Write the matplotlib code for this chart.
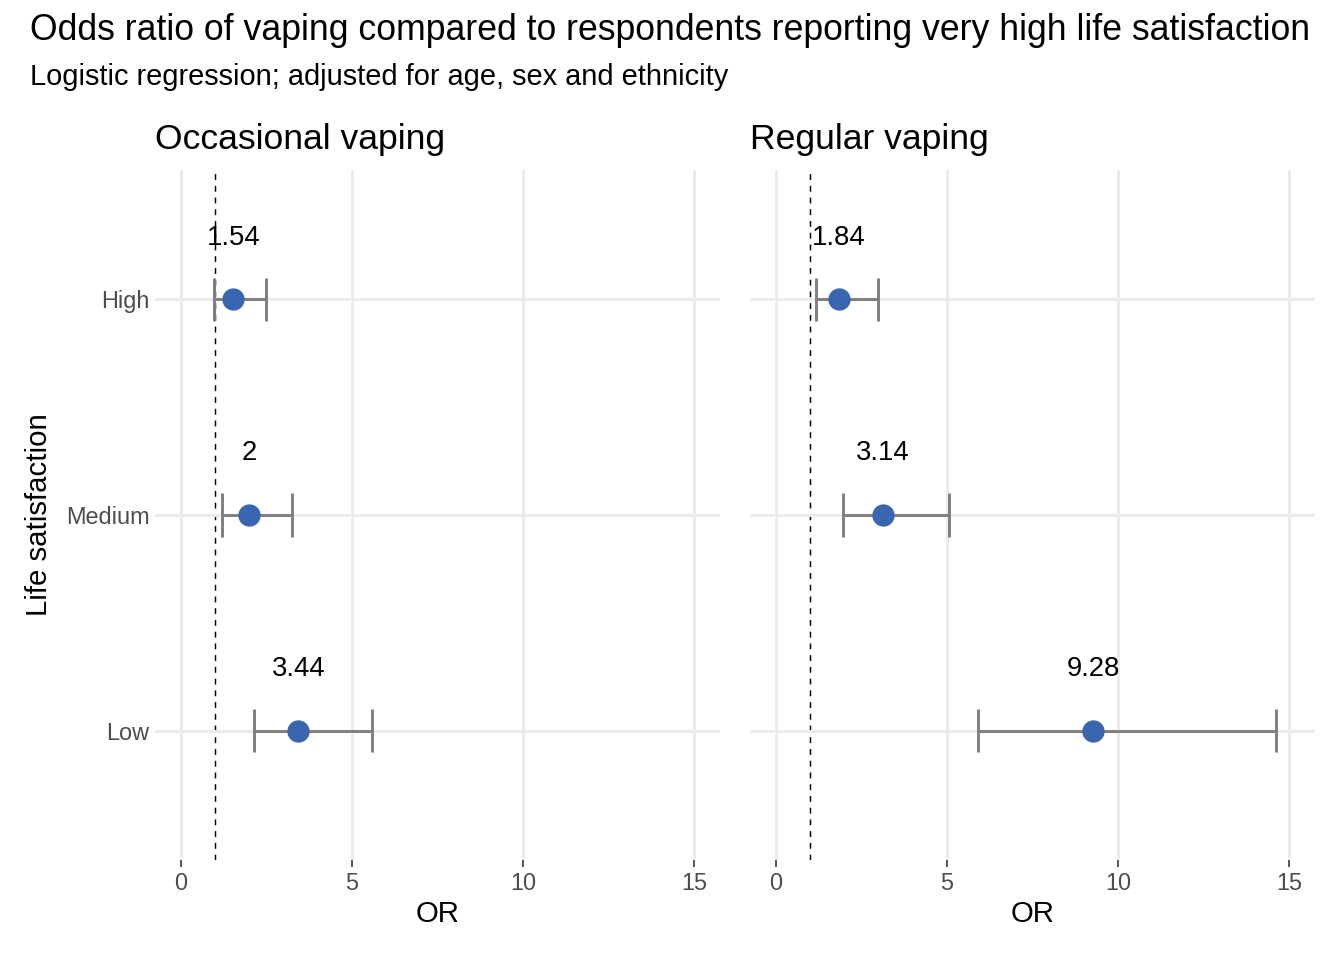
import matplotlib
matplotlib.use("Agg")
import matplotlib.pyplot as plt
import numpy as np

plt.rcParams['font.family'] = ['Liberation Sans', 'DejaVu Sans']

# life satisfaction groups, bottom to top
levels = ["Low", "Medium", "High"]

occ_or = [3.44, 2.00, 1.54]
occ_lo = [2.13, 1.20, 0.96]
occ_hi = [5.58, 3.25, 2.49]

reg_or = [9.28, 3.14, 1.84]
reg_lo = [5.91, 1.96, 1.17]
reg_hi = [14.62, 5.06, 2.98]

panels = [
    ("Occasional vaping", occ_or, occ_lo, occ_hi),
    ("Regular vaping", reg_or, reg_lo, reg_hi),
]

W, H = 1344, 960
fig = plt.figure(figsize=(7, 5), dpi=192)

point_col = "#3A66B0"
bar_col = "#7F7F7F"
grid_col = "#EBEBEB"

boxes = [(155, 720), (750, 1315)]
top, bottom = 170, 860

for i, ((name, est, lo, hi), (x0, x1)) in enumerate(zip(panels, boxes)):
    ax = fig.add_axes([x0 / W, (H - bottom) / H, (x1 - x0) / W, (bottom - top) / H])
    y = np.arange(1, len(levels) + 1)

    ax.set_xlim(-0.75, 15.75)
    ax.set_ylim(0.4, 3.6)
    ax.set_xticks([0, 5, 10, 15])
    ax.set_yticks(y)
    ax.grid(True, color=grid_col, linewidth=1.1, zorder=0)
    for s in ax.spines.values():
        s.set_visible(False)

    ax.axvline(1, color="black", linestyle=(0, (4, 4)), linewidth=0.55, zorder=1)

    # error bars with caps
    ax.hlines(y, lo, hi, color=bar_col, linewidth=1.1, zorder=2)
    ax.vlines(lo, y - 0.1, y + 0.1, color=bar_col, linewidth=1.1, zorder=2)
    ax.vlines(hi, y - 0.1, y + 0.1, color=bar_col, linewidth=1.1, zorder=2)
    ax.scatter(est, y, s=70, color=point_col, zorder=3, linewidths=0)

    for xv, yv in zip(est, y):
        ax.text(xv, yv + 0.3, f"{xv:g}", ha="center", va="center_baseline",
                fontsize=10.3, color="black", zorder=4)

    ax.tick_params(axis="x", length=2.5, width=0.6, color="#333333",
                   labelsize=8.8, labelcolor="#4D4D4D", pad=2)
    ax.set_xlabel("OR", fontsize=11, labelpad=2)
    if i == 0:
        ax.set_yticklabels(levels)
        ax.tick_params(axis="y", length=0, labelsize=8.8, labelcolor="#4D4D4D", pad=2)
        ax.set_ylabel("Life satisfaction", fontsize=11, labelpad=5)
    else:
        ax.tick_params(axis="y", length=0, labelleft=False)
    ax.set_title(name, fontsize=13.3, loc="left", pad=8)

fig.text(30 / W, 1 - 30 / H, "Odds ratio of vaping compared to respondents reporting very high life satisfaction",
         fontsize=13.35, ha="left", va="center")
fig.text(30 / W, 1 - 77 / H, "Logistic regression; adjusted for age, sex and ethnicity",
         fontsize=10.88, ha="left", va="center")

fig.savefig("out.png", dpi=192)
